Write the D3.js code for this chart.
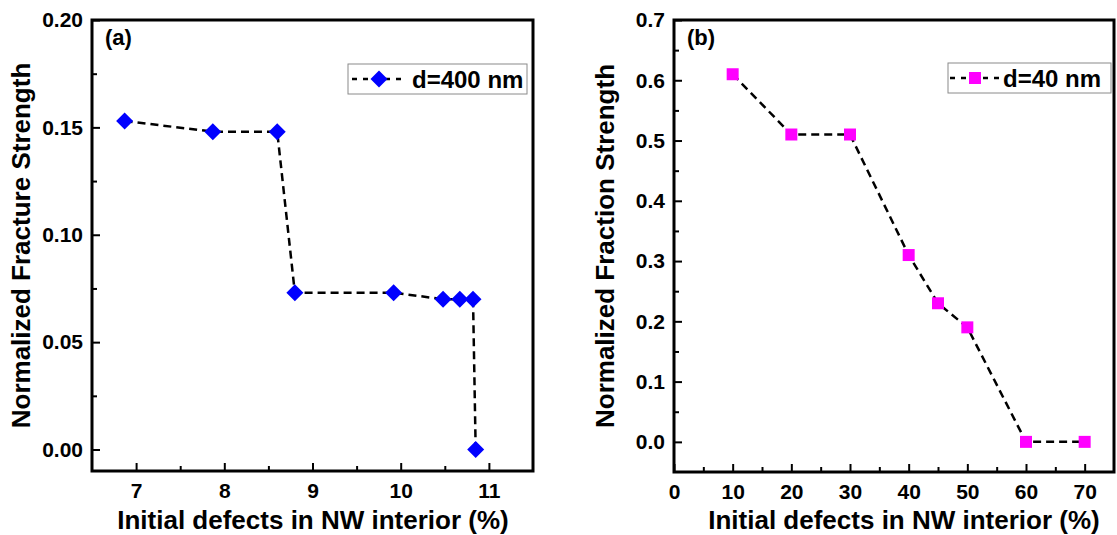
<!DOCTYPE html>
<html>
<head>
<meta charset="utf-8">
<script src="https://cdn.jsdelivr.net/npm/d3@7"></script>
<style>
  html, body { margin: 0; padding: 0; background: #fff; }
  svg { display: block; font-family: "Liberation Sans", Arial, sans-serif; font-weight: bold; }
</style>
</head>
<body>
<div id="chart"></div>
<script>
// panel (a): d = 400 nm
const aDefects = [6.87, 7.87, 8.60, 8.80, 9.92, 10.48, 10.67, 10.82, 10.85];
const aStrength = [0.153, 0.148, 0.148, 0.073, 0.073, 0.070, 0.070, 0.070, 0.0];
const aXTicks = [7, 8, 9, 10, 11];
const aXMinor = [7.5, 8.5, 9.5, 10.5];
const aYTicks = [0, 0.05, 0.10, 0.15, 0.20];
const aYMinor = [0.025, 0.075, 0.125, 0.175];

// panel (b): d = 40 nm
const bDefects = [10, 20, 30, 40, 45, 50, 60, 70];
const bStrength = [0.61, 0.51, 0.51, 0.31, 0.23, 0.19, 0.0, 0.0];
const bXTicks = [0, 10, 20, 30, 40, 50, 60, 70];
const bXMinor = [5, 15, 25, 35, 45, 55, 65];
const bYTicks = [0, 0.1, 0.2, 0.3, 0.4, 0.5, 0.6, 0.7];
const bYMinor = [0.05, 0.15, 0.25, 0.35, 0.45, 0.55, 0.65];

const W = 1117, H = 535;

const svg = d3.select("#chart")
  .append("svg")
  .attr("width", W)
  .attr("height", H);

svg.append("rect").attr("width", W).attr("height", H).attr("fill", "#fff");

function drawPanel(cfg) {
  const x = d3.scaleLinear().domain(cfg.xDomain).range([cfg.left, cfg.right]);
  const y = d3.scaleLinear().domain(cfg.yDomain).range([cfg.bottom, cfg.top]);
  const g = svg.append("g");

  // minor ticks (inward)
  g.append("g")
    .attr("transform", `translate(0,${cfg.bottom})`)
    .call(d3.axisBottom(x).tickValues(cfg.xMinor).tickSize(-5).tickFormat(""))
    .call(s => s.select(".domain").remove());
  g.append("g")
    .attr("transform", `translate(${cfg.left},0)`)
    .call(d3.axisLeft(y).tickValues(cfg.yMinor).tickSize(-5).tickFormat(""))
    .call(s => s.select(".domain").remove());

  // major ticks + labels
  const xa = g.append("g")
    .attr("transform", `translate(0,${cfg.bottom})`)
    .call(d3.axisBottom(x).tickValues(cfg.xTicks).tickSize(-8).tickPadding(12).tickFormat(d3.format("d")));
  const ya = g.append("g")
    .attr("transform", `translate(${cfg.left},0)`)
    .call(d3.axisLeft(y).tickValues(cfg.yTicks).tickSize(-8).tickPadding(9).tickFormat(d3.format(cfg.yFormat)));
  [xa, ya].forEach(a => {
    a.select(".domain").remove();
    a.selectAll("text").attr("font-size", 21).attr("font-weight", "bold")
      .attr("font-family", "Liberation Sans, Arial, sans-serif").attr("fill", "#000");
  });
  g.selectAll(".tick line").attr("stroke", "#000").attr("stroke-width", 2);

  // frame
  g.append("rect")
    .attr("x", cfg.left).attr("y", cfg.top)
    .attr("width", cfg.right - cfg.left).attr("height", cfg.bottom - cfg.top)
    .attr("fill", "none").attr("stroke", "#000").attr("stroke-width", 3);

  // data line
  const pts = cfg.xs.map((v, i) => [v, cfg.ys[i]]);
  g.append("path")
    .datum(pts)
    .attr("fill", "none")
    .attr("stroke", "#000")
    .attr("stroke-width", 2.5)
    .attr("stroke-dasharray", "8,5")
    .attr("d", d3.line().x(d => x(d[0])).y(d => y(d[1])));

  // markers
  g.selectAll(".pt")
    .data(pts)
    .enter()
    .append("path")
    .attr("class", "pt")
    .attr("transform", d => `translate(${x(d[0])},${y(d[1])})`)
    .attr("d", cfg.marker)
    .attr("fill", cfg.color);

  // panel tag
  g.append("text")
    .attr("x", cfg.left + 13).attr("y", 45)
    .attr("font-size", 22)
    .text(cfg.tag);

  // legend
  const L = cfg.legend;
  const lg = g.append("g").attr("transform", `translate(${L.x},${L.y})`);
  lg.append("rect")
    .attr("width", L.w).attr("height", 30)
    .attr("fill", "#fff").attr("stroke", "#8a8a8a").attr("stroke-width", 1);
  lg.append("line")
    .attr("x1", L.l0).attr("x2", L.l1).attr("y1", 15).attr("y2", 15)
    .attr("stroke", "#000").attr("stroke-width", 2.5).attr("stroke-dasharray", "5,6");
  lg.append("path")
    .attr("transform", `translate(${(L.l0 + L.l1) / 2},15)`)
    .attr("d", cfg.marker)
    .attr("fill", cfg.color);
  lg.append("text")
    .attr("x", L.tx).attr("y", 24)
    .attr("font-size", 24)
    .text(cfg.label);

  // axis titles
  g.append("text")
    .attr("x", cfg.xTitleX).attr("y", 529)
    .attr("text-anchor", "middle")
    .attr("font-size", 26)
    .text("Initial defects in NW interior (%)");
  g.append("text")
    .attr("transform", `translate(${cfg.yTitleX},${(cfg.top + cfg.bottom) / 2}) rotate(-90)`)
    .attr("text-anchor", "middle")
    .attr("font-size", 26)
    .text(cfg.yTitle);
}

const diamond = "M0,-8.5L8.5,0L0,8.5L-8.5,0Z";
const square = "M-6,-6H6V6H-6Z";

drawPanel({
  left: 92, right: 533, top: 20, bottom: 471,
  xDomain: [6.5, 11.5], yDomain: [-0.01, 0.2],
  xTicks: aXTicks, xMinor: aXMinor, yTicks: aYTicks, yMinor: aYMinor, yFormat: ".2f",
  xs: aDefects, ys: aStrength,
  marker: diamond, color: "#0000ff",
  tag: "(a)", label: "d=400 nm",
  legend: { x: 348, y: 64, w: 179, l0: 4, l1: 58, tx: 64 },
  xTitleX: 313, yTitleX: 30,
  yTitle: "Normalized Fracture Strength"
});

drawPanel({
  left: 674, right: 1114, top: 20, bottom: 472,
  xDomain: [0, 75], yDomain: [-0.05, 0.7],
  xTicks: bXTicks, xMinor: bXMinor, yTicks: bYTicks, yMinor: bYMinor, yFormat: ".1f",
  xs: bDefects, ys: bStrength,
  marker: square, color: "#ff00ff",
  tag: "(b)", label: "d=40 nm",
  legend: { x: 948, y: 63, w: 163, l0: 2, l1: 52, tx: 55 },
  xTitleX: 904, yTitleX: 614,
  yTitle: "Normalized Fraction Strength"
});
</script>
</body>
</html>
